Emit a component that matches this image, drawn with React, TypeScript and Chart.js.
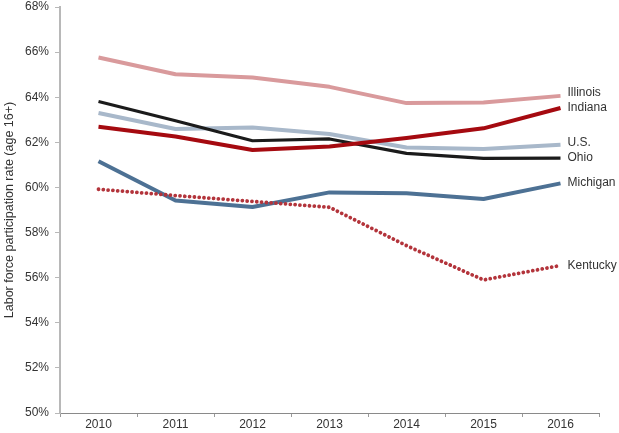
import React, { useEffect, useRef } from "react";
import { Chart, registerables } from "chart.js";

Chart.register(...registerables);

const years = ["2010", "2011", "2012", "2013", "2014", "2015", "2016"];
const illinois = [65.76, 65.02, 64.87, 64.46, 63.74, 63.77, 64.06];
const indiana = [62.69, 62.26, 61.66, 61.82, 62.19, 62.62, 63.52];
const usa = [63.3, 62.59, 62.66, 62.37, 61.77, 61.7, 61.89];
const ohio = [63.81, 62.96, 62.07, 62.15, 61.51, 61.29, 61.3];
const michigan = [61.16, 59.42, 59.13, 59.78, 59.74, 59.49, 60.18];
const kentucky = [59.92, 59.64, 59.38, 59.12, 57.42, 55.9, 56.54];

const yMin = 50;
const yMax = 68;
const yStep = 2;
const yTitle = "Labor force participation rate (age 16+)";

const FONT = "'Liberation Sans', Arial, Helvetica, sans-serif";

const endLabelNudge: Record<string, number> = {
  Illinois: -3,
  Indiana: 0,
  "U.S.": -2,
  Ohio: 0,
  Michigan: -1,
  Kentucky: 0,
};

const endLabels = {
  id: "endLabels",
  afterDatasetsDraw(chart: any) {
    const ctx = chart.ctx;
    ctx.save();
    ctx.font = `12px ${FONT}`;
    ctx.fillStyle = "#333";
    ctx.textAlign = "left";
    ctx.textBaseline = "middle";
    chart.data.datasets.forEach((ds: any, i: number) => {
      const meta = chart.getDatasetMeta(i);
      const pt = meta.data[meta.data.length - 1];
      if (!pt) return;
      ctx.fillText(ds.label, pt.x + 7, pt.y + (endLabelNudge[ds.label] || 0));
    });
    ctx.restore();
  },
};

export default function App() {
  const ref = useRef<HTMLCanvasElement>(null);

  useEffect(() => {
    if (!ref.current) return;
    const solid = (label: string, data: number[], color: string, width = 4) => ({
      label,
      data,
      borderColor: color,
      backgroundColor: color,
      borderWidth: width,
      pointRadius: 0,
      pointHoverRadius: 0,
      tension: 0,
      fill: false,
      borderCapStyle: "butt",
      borderJoinStyle: "round",
    });
    const chart = new Chart(ref.current, {
      type: "line",
      data: {
        labels: years,
        datasets: [
          {
            ...solid("Kentucky", kentucky, "#b3343b", 3.8),
            borderDash: [0.01, 4.8],
            borderCapStyle: "round",
          } as any,
          solid("Indiana", indiana, "#a50a10"),
          solid("Michigan", michigan, "#4d7194"),
          solid("Ohio", ohio, "#1b1b1b", 3.2),
          solid("U.S.", usa, "#a8b8ca"),
          solid("Illinois", illinois, "#d99a9c"),
        ],
      },
      options: {
        responsive: false,
        animation: false,
        devicePixelRatio: 1,
        layout: { padding: { top: 7, right: 20, left: 0, bottom: 0 } },
        plugins: {
          legend: { display: false },
          tooltip: { enabled: false },
          title: { display: false },
        },
        scales: {
          x: {
            type: "category",
            offset: true,
            afterFit: (s: any) => {
              s.height = 20;
              s.paddingLeft = 0;
              s.paddingRight = 0;
            },
            grid: {
              offset: true,
              drawOnChartArea: false,
              drawTicks: true,
              tickLength: 4,
              color: "#9a9a9a",
            },
            border: { display: true, color: "#8a8a8a", width: 1 },
            ticks: {
              color: "#333",
              font: { family: FONT, size: 12 },
              padding: 0,
              maxRotation: 0,
            },
          },
          y: {
            min: yMin,
            max: yMax,
            afterFit: (s: any) => {
              s.width = 60;
              s.paddingTop = 0;
              s.paddingBottom = 0;
            },
            ticks: {
              stepSize: yStep,
              color: "#333",
              font: { family: FONT, size: 12 },
              padding: 6,
              callback: (v: any) => `${v}%`,
            },
            grid: {
              drawOnChartArea: false,
              drawTicks: true,
              tickLength: 5,
              color: "#b8b8b8",
            },
            border: { display: true, color: "#b8b8b8", width: 2 },
            title: {
              display: true,
              text: yTitle,
              color: "#333",
              font: { family: FONT, size: 12.5 },
              padding: { top: 2, bottom: 0 },
            },
          },
        },
      },
      plugins: [endLabels],
    } as any);
    return () => chart.destroy();
  }, []);

  return (
    <div style={{ position: "absolute", left: 0, top: 0, width: 619, height: 433, background: "#fff" }}>
      <canvas ref={ref} width={619} height={433} style={{ width: 619, height: 433, display: "block" }} />
    </div>
  );
}
